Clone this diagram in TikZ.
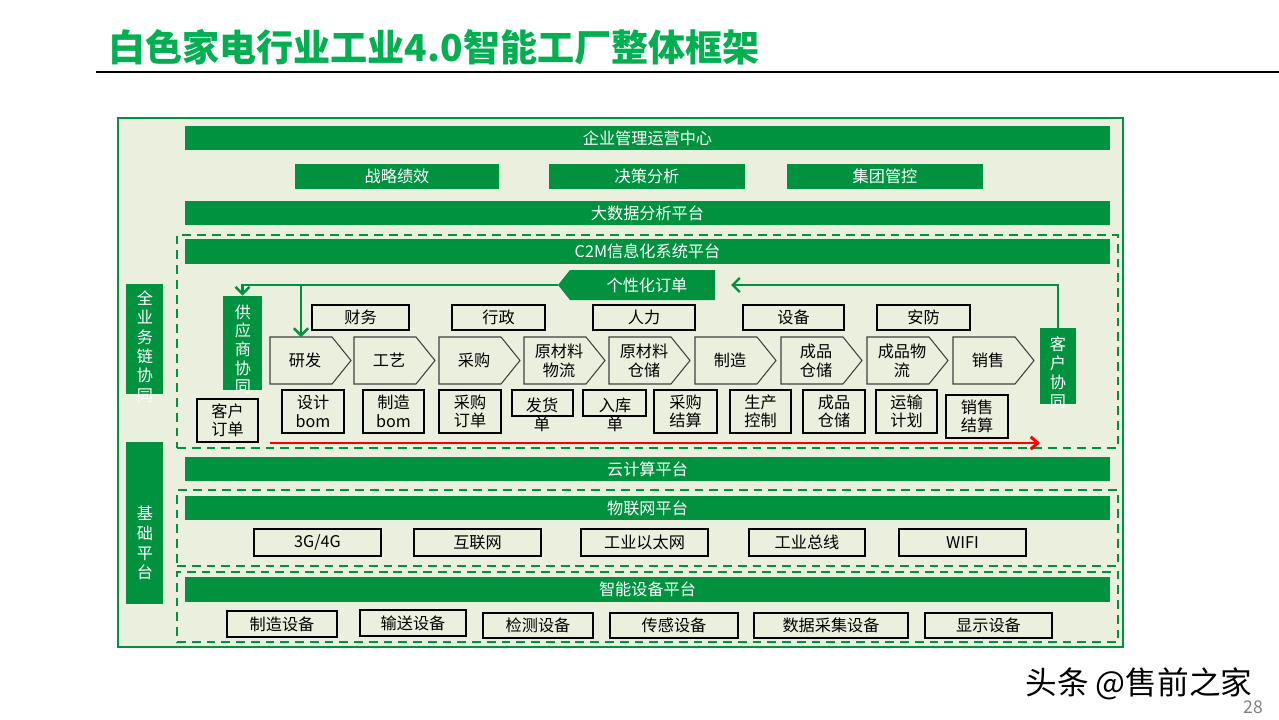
\documentclass[tikz,border=0pt]{standalone}
\usepackage{fontspec}
\setmainfont{Noto Sans CJK SC}
\usetikzlibrary{fit,arrows.meta}
\definecolor{cg}{RGB}{0,146,63}
\definecolor{tg}{RGB}{0,176,80}
\definecolor{pbg}{RGB}{235,239,222}
\newcommand\bx[5]{\node[#1,fit={#3 #4}] (#2) {};\node[#1t] (#2t) at (#2.center) {#5};}
\begin{document}
\begin{tikzpicture}[x={(0.02cm,0)},y={(0,-0.02cm)},
 bar/.style={fill=cg,inner sep=0pt},
 bart/.style={text=white,inner sep=0pt,align=center,font=\fontsize{9.2}{11}\selectfont},
 wbox/.style={draw=black,line width=0.7pt,inner sep=0pt},
 wboxt/.style={inner sep=0pt,align=center,font=\fontsize{9.2}{10.5}\selectfont},
 chev/.style={draw=black!75,line width=0.6pt,fill=pbg},
 ctext/.style={align=center,font=\fontsize{9.2}{10.8}\selectfont},
 vtext/.style={text=white,align=center,inner sep=0pt},
 dbox/.style={draw=cg,dash pattern=on 5pt off 3.4pt,line width=1.1pt,inner sep=0pt},
 garrow/.style={draw=cg,line width=1.4pt,-{Straight Barb[length=4pt,width=8pt]}},
 rarrow/.style={draw=red,line width=1.7pt,-{Straight Barb[length=4pt,width=7pt]}},
]
\useasboundingbox (0,0) rectangle (1279,720);
\fill[white] (0,0) rectangle (1279,720);
% title
\node[anchor=west,inner sep=0pt,text=tg,font=\fontsize{21.1}{25}\selectfont\bfseries] (title) at (108,47) {白色家电行业工业4.0智能工厂整体框架};
\coordinate (tl1) at (96,72);
\coordinate (tl2) at (1279,72);
\draw[line width=0.9pt] (tl1) -- (tl2);
% panel
\node[fit={(118,118) (1123,647)},inner sep=0pt,draw=cg,fill=pbg,line width=0.6pt] (panel) {};
% dashed groups
\node[dbox,fit={(177,235) (1118,448)}] (grpA) {};
\node[dbox,fit={(177,490) (1118,566)}] (grpB) {};
\node[dbox,fit={(177,572) (1118,642)}] (grpC) {};
% green bars
\bx{bar}{erp}{(185,126)}{(1110,150)}{企业管理运营中心}
\bx{bar}{zl}{(295,164)}{(499,189)}{战略绩效}
\bx{bar}{jc}{(549,164)}{(745,189)}{决策分析}
\bx{bar}{jt}{(787,164)}{(983,189)}{集团管控}
\bx{bar}{bd}{(185,201)}{(1110,225)}{大数据分析平台}
\bx{bar}{c2m}{(185,239)}{(1110,264)}{C2M信息化系统平台}
\bx{bar}{cloud}{(185,457)}{(1110,481)}{云计算平台}
\bx{bar}{iot}{(185,496)}{(1110,520)}{物联网平台}
\bx{bar}{dev}{(185,577)}{(1110,602)}{智能设备平台}
% vertical bars
\node[bar,fit={(126,284) (163,394)}] (qyw) {};
\node[vtext,font=\fontsize{9.2}{11.05}\selectfont] (qywt) at (145,346.5) {全\\业\\务\\链\\协\\同};
\node[bar,fit={(126,442) (163,604)}] (jcpt) {};
\node[vtext,font=\fontsize{9.2}{11.3}\selectfont] (jcptt) at (145,543) {基\\础\\平\\台};
\node[bar,fit={(223,296) (262,390)}] (sup) {};
\node[vtext,font=\fontsize{9.2}{10.6}\selectfont] (supt) at (243,349.5) {供\\应\\商\\协\\同};
\node[bar,fit={(1040,328) (1076,404)}] (kh) {};
\node[vtext,font=\fontsize{9.2}{10.8}\selectfont] (kht) at (1058,373) {客\\户\\协\\同};
% personalised order
\fill[cg] (558,285) -- (570,270) -- (715,270) -- (715,300) -- (570,300) -- cycle;
\node[vtext,font=\fontsize{9.2}{11}\selectfont] (gx) at (647,285) {个性化订单};
\coordinate (gxtip) at (558,285);
\coordinate (gxin) at (731,285);
% top row boxes
\bx{wbox}{cw}{(312,305)}{(409,330)}{财务}
\bx{wbox}{xz}{(452,305)}{(545,330)}{行政}
\bx{wbox}{rl}{(593,305)}{(695,330)}{人力}
\bx{wbox}{sb}{(743,305)}{(844,330)}{设备}
\bx{wbox}{af}{(877,305)}{(970,330)}{安防}
% chevrons
\newcommand\chevr[3]{%
  \draw[chev] (#2,337) -- ++(62,0) -- ++(19,23.5) -- ++(-19,23.5) -- ++(-62,0) -- cycle;
  \node[ctext] (#1) at (#2+35,360.5) {#3};
  \coordinate (#1top) at (#2+31,337);}
\chevr{yf}{270}{研发}
\chevr{gyi}{354}{工艺}
\chevr{cgo}{439}{采购}
\chevr{ylw}{524}{原材料\\物流}
\chevr{ylc}{609}{原材料\\仓储}
\chevr{zz}{695}{制造}
\chevr{cpc}{781}{成品\\仓储}
\chevr{cpw}{867}{成品物\\流}
\chevr{xs}{953}{销售}
% bottom row boxes
\bx{wbox}{khdd}{(197,399)}{(258,442)}{客户\\订单}
\bx{wbox}{sjb}{(282,390)}{(344,433)}{设计\\bom}
\bx{wbox}{zzb}{(363,390)}{(424,433)}{制造\\bom}
\bx{wbox}{cgdd}{(439,390)}{(501,433)}{采购\\订单}
\node[wbox,fit={(512,390) (573,416)}] (fhd) {};
\node[ctext] (fhdt) at (542,415) {发货\\单};
\node[wbox,fit={(583,390) (646,416)}] (rkd) {};
\node[ctext] (rkdt) at (615,415) {入库\\单};
\bx{wbox}{cgjs}{(654,390)}{(717,433)}{采购\\结算}
\bx{wbox}{sckz}{(730,390)}{(791,433)}{生产\\控制}
\bx{wbox}{cpcc}{(803,390)}{(865,433)}{成品\\仓储}
\bx{wbox}{ysjh}{(876,390)}{(937,433)}{运输\\计划}
\bx{wbox}{xsjs}{(946,395)}{(1008,438)}{销售\\结算}
% arrows
\draw[garrow] (gxtip) -| (sup.north);
\draw[garrow] (yftop |- gxtip) -- (yftop);
\draw[garrow] (kh.north) |- (gxin);
\coordinate (rs) at (270,443);
\coordinate (re) at (1040,443);
\draw[rarrow] (rs) -- (re);
% network boxes
\bx{wbox}{n1}{(254,529)}{(381,556)}{3G/4G}
\bx{wbox}{n2}{(414,529)}{(541,556)}{互联网}
\bx{wbox}{n3}{(581,529)}{(708,556)}{工业以太网}
\bx{wbox}{n4}{(749,529)}{(865,556)}{工业总线}
\bx{wbox}{n5}{(899,529)}{(1026,556)}{WIFI}
% device boxes
\bx{wbox}{d1}{(227,611)}{(337,637)}{制造设备}
\bx{wbox}{d2}{(360,610)}{(466,636)}{输送设备}
\bx{wbox}{d3}{(483,613)}{(593,638)}{检测设备}
\bx{wbox}{d4}{(610,613)}{(738,638)}{传感设备}
\bx{wbox}{d5}{(754,613)}{(908,638)}{数据采集设备}
\bx{wbox}{d6}{(925,613)}{(1052,638)}{显示设备}
% watermark
\node[inner sep=0pt,font=\fontsize{18}{20}\selectfont] (wm) at (1139,684) {头条 @售前之家};
\node[inner sep=0pt,text=black!50,font=\fontsize{10}{12}\selectfont] (pg) at (1253,707) {28};
\end{tikzpicture}
\end{document}
